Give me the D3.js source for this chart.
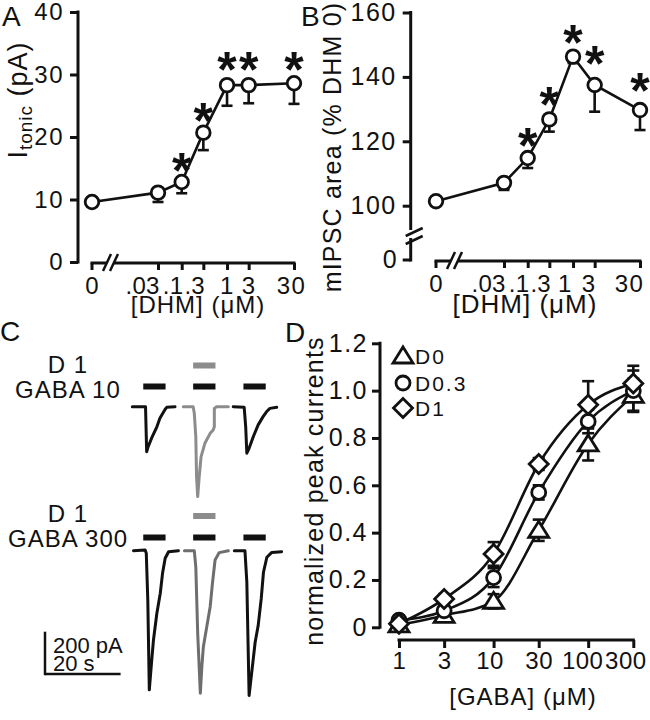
<!DOCTYPE html>
<html><head><meta charset="utf-8">
<script src="https://cdn.jsdelivr.net/npm/d3@7"></script>
<style>body{margin:0;background:#fff}svg{display:block}</style>
</head><body><svg id="chart" width="650" height="720"></svg>
<script>
// ---------------- DATA ----------------
// Panels A & B: DHM concentration response
const dhmConc = [0, 0.03, 0.1, 0.3, 1, 3, 30];
const dhmTickLabels = ["0", ".03", ".1", ".3", "1", "3", "30"];
const tonicTicks = [0, 10, 20, 30, 40];
const tonicMean = [9.6, 11.1, 12.8, 20.7, 28.3, 28.3, 28.6];
const tonicSem  = [0.7, 1.5, 1.8, 2.8, 3.3, 2.9, 3.3];
const tonicStarConc  = [0.1, 0.3, 1, 3, 30];
const tonicStarLevel = [16.3, 24.3, 32.5, 32.5, 32.5];

const areaTicks = [100, 120, 140, 160];
const areaMean = [101.4, 107.1, 114.8, 126.8, 146.3, 137.5, 129.7];
const areaSem  = [0.6, 2.2, 3.1, 3.8, 2.0, 8.3, 6.2];
const areaStarConc  = [0.1, 0.3, 1, 3, 30];
const areaStarLevel = [122.0, 134.7, 153.9, 147.4, 139.0];

// Panel D: GABA concentration response
const gabaConc = [1, 3, 10, 30, 100, 300];
const gabaTickLabels = ["1", "3", "10", "30", "100", "300"];
const normTicks = [0, 0.2, 0.4, 0.6, 0.8, 1.0, 1.2];
const normTickLabels = ["0", "0.2", "0.4", "0.6", "0.8", "1.0", "1.2"];
const seriesNames = ["D0", "D0.3", "D1"];
const respD0  = [0.01, 0.05, 0.11, 0.41, 0.775, 0.98];
const semD0   = [0.01, 0.01, 0.03, 0.045, 0.07, 0.07];
const respD03 = [0.03, 0.07, 0.21, 0.57, 0.87, 1.00];
const semD03  = [0.01, 0.02, 0.04, 0.03, 0.05, 0.085];
const respD1  = [0.015, 0.12, 0.31, 0.69, 0.94, 1.03];
const semD1   = [0.005, 0.02, 0.05, 0.025, 0.10, 0.075];

// Panel C: current traces (time in s from trace start, current in pA)
const ctrl10T  = [0, 3.5, 3.8, 4.2, 5.1, 6.5, 7.3, 7.8, 8.7, 9.1, 11.3];
const ctrl10I  = [0, 0, -213, -189, -149, -95, -55, -39, -12, -3, 0];
const dhm10T   = [0, 2.6, 2.9, 3.3, 3.5, 3.8, 4.2, 4.7, 5.7, 7.1, 7.9, 8.2, 8.2, 8.8, 11.9];
const dhm10I   = [0, 0, -31, -142, -331, -425, -331, -236, -173, -126, -110, -95, -8, 0, 0];
const wash10T  = [0, 2.9, 3.3, 3.6, 4.2, 5.3, 6.6, 7.9, 8.8, 9.7, 11.5];
const wash10I  = [0, -3, -95, -220, -197, -142, -86, -47, -24, -8, -3];
const ctrl300T = [0, 3.1, 3.4, 3.8, 4.2, 4.7, 5.3, 6.2, 7.1, 7.7, 8.4, 9.3, 11.9];
const ctrl300I = [0, 3, -12, -233, -658, -548, -422, -296, -201, -107, -36, -5, 0];
const dhm300T  = [0, 2.6, 3.0, 3.5, 4.2, 4.6, 5.0, 5.9, 6.8, 7.4, 8.1, 9.2, 11.6];
const dhm300I  = [0, 0, -76, -390, -674, -548, -454, -359, -265, -154, -44, -9, 0];
const wash300T = [0, 2.8, 3.3, 3.9, 4.6, 5.5, 6.3, 7.1, 7.7, 8.6, 9.9, 12.5];
const wash300I = [0, 0, -149, -685, -575, -433, -354, -228, -102, -31, -8, -5];
const traceStart10  = [0, 13.5, 26.7];
const traceStart300 = [0.3, 13.8, 27.0];
const gabaOnsets = [2.9, 16.1, 29.4];
const appDuration = 5.9;
const dhmOnsetIndex = 1;
const scaleBarCurrent = 200; // pA
const scaleBarTime = 20;     // s

// ---------------- DRAWING ----------------
const FONT = '"Liberation Sans", Arial, Helvetica, sans-serif';
const INK = '#111';
const svg = d3.select('#chart').attr('font-family', FONT);

function txt(x, y, s, fs, anchor, ls) {
  return svg.append('text').attr('x', x).attr('y', y).attr('font-size', fs)
    .attr('fill', INK).attr('text-anchor', anchor || 'start')
    .attr('letter-spacing', ls === undefined ? 1 : ls).text(s);
}
function seg(g, x1, y1, x2, y2, w, col) {
  g.append('line').attr('x1', x1).attr('y1', y1).attr('x2', x2).attr('y2', y2)
    .attr('stroke', col || INK).attr('stroke-width', w || 3);
}
function styleAxis(g, fs) {
  g.select('.domain').remove();
  g.attr('font-size', fs).attr('font-family', FONT);
  g.selectAll('.tick line').attr('stroke', INK).attr('stroke-width', 3);
  g.selectAll('.tick text').attr('fill', INK).attr('letter-spacing', 1.5);
}
function star(g, x, yc, fs) {
  g.append('text').attr('x', x).attr('y', yc + 0.56 * fs).attr('font-size', fs)
    .attr('font-weight', 'bold').attr('text-anchor', 'middle').attr('fill', INK).text('*');
}

// dose-response panel for DHM
function dhmPanel(o) {
  const g = svg.append('g');
  const y = d3.scaleLinear().domain(o.yDomain).range(o.yRange);
  const xl = d3.scaleLog().domain([0.03, 30]).range(o.xRange);
  const px = c => c === 0 ? o.zeroX : xl(c);
  const ga = g.append('g').attr('transform', `translate(${o.axisX},0)`)
    .call(d3.axisLeft(y).tickValues(o.yTicks).tickSize(8).tickPadding(6).tickSizeOuter(0));
  styleAxis(ga, o.fs);
  if (o.yBreak) {
    seg(g, o.axisX, o.yRange[1] - 1.5, o.axisX, o.yBreak[0]);
    seg(g, o.axisX, o.yBreak[1], o.axisX, o.zeroY + 1.5);
    seg(g, o.axisX - 8, o.zeroY, o.axisX, o.zeroY);
    seg(g, o.axisX - 5, o.yBreak[0] + 6, o.axisX + 12, o.yBreak[0] - 2, 2.5);
    seg(g, o.axisX - 5, o.yBreak[1] + 6, o.axisX + 12, o.yBreak[1] - 2, 2.5);
    g.append('text').attr('x', o.axisX - 14).attr('y', o.zeroY).attr('dy', '0.32em')
      .attr('text-anchor', 'end').attr('font-size', o.fs).attr('fill', INK).text('0');
  } else {
    seg(g, o.axisX, o.yRange[1] - 1.5, o.axisX, o.yRange[0] + 1.5);
  }
  const nz = dhmConc.filter(c => c > 0);
  const gx = g.append('g').attr('transform', `translate(0,${o.xAxisY})`)
    .call(d3.axisBottom(xl).tickValues(nz).tickSize(7).tickPadding(7)
      .tickFormat(d => dhmTickLabels[dhmConc.indexOf(d)]));
  styleAxis(gx, o.xfs);
  gx.selectAll('.tick text').each(function (d) {
    const lab = dhmTickLabels[dhmConc.indexOf(d)];
    const s = d3.select(this);
    if (lab.startsWith('.')) s.attr('text-anchor', 'end').attr('x', 1).attr('letter-spacing', 0.2);
    else s.attr('x', o.labelShift[lab] || 0);
  });
  seg(g, o.zeroX, o.xAxisY, o.zeroX, o.xAxisY + 7);
  g.append('text').attr('x', o.zeroX).attr('y', o.xAxisY + 14).attr('dy', '0.71em')
    .attr('text-anchor', 'middle').attr('font-size', o.xfs).attr('fill', INK).text('0');
  seg(g, o.zeroX - 1.5, o.xAxisY, o.zeroX + 15, o.xAxisY);
  seg(g, o.zeroX + 22, o.xAxisY, o.xRange[1] + 1.5, o.xAxisY);
  seg(g, o.zeroX + 11, o.xAxisY + 8, o.zeroX + 19, o.xAxisY - 9, 2.5);
  seg(g, o.zeroX + 18, o.xAxisY + 8, o.zeroX + 26, o.xAxisY - 9, 2.5);
  g.append('path').datum(dhmConc.map((c, i) => [px(c), y(o.mean[i])]))
    .attr('d', d3.line()).attr('fill', 'none').attr('stroke', INK).attr('stroke-width', 2.6);
  dhmConc.forEach((c, i) => {
    const x0 = px(c), yb = y(o.mean[i] - o.sem[i]);
    seg(g, x0, y(o.mean[i]), x0, yb, 2.6);
    seg(g, x0 - 5.5, yb, x0 + 5.5, yb, 2.6);
  });
  g.selectAll('circle.pt').data(dhmConc).join('circle').attr('class', 'pt')
    .attr('cx', c => px(c)).attr('cy', (c, i) => y(o.mean[i])).attr('r', 6.8)
    .attr('fill', '#fff').attr('stroke', INK).attr('stroke-width', 2.8);
  o.starConc.forEach((c, i) => star(g, px(c), y(o.starLevel[i]), 50));
  txt(o.titleX, o.titleY, '[DHM] (\u03bcM)', o.titleFs, 'middle');
  return g;
}

dhmPanel({
  yDomain: [0, 40], yRange: [262, 12], yTicks: tonicTicks, axisX: 78,
  xRange: [158, 294], zeroX: 92, xAxisY: 263, fs: 24, xfs: 24, labelShift: { '30': -3 },
  mean: tonicMean, sem: tonicSem, starConc: tonicStarConc, starLevel: tonicStarLevel,
  titleX: 198, titleY: 313, titleFs: 24
});
dhmPanel({
  yDomain: [100, 160], yRange: [205.7, 12.5], yTicks: areaTicks, axisX: 410.7,
  yBreak: [230, 238], zeroY: 260,
  xRange: [504, 640], zeroX: 436, xAxisY: 261, fs: 25, xfs: 24, labelShift: { '1': -8, '3': -6, '30': -11 },
  mean: areaMean, sem: areaSem, starConc: areaStarConc, starLevel: areaStarLevel,
  titleX: 525, titleY: 313, titleFs: 26
});

// y titles A & B
const tA = svg.append('text').attr('transform', 'translate(27,100) rotate(-90)')
  .attr('text-anchor', 'middle').attr('font-size', 27).attr('fill', INK).attr('letter-spacing', 1);
tA.append('tspan').text('I');
tA.append('tspan').attr('font-size', 19).attr('dy', 5).text('tonic');
tA.append('tspan').attr('dy', -5).text(' (pA)');
svg.append('text').attr('transform', 'translate(341,147) rotate(-90)')
  .attr('text-anchor', 'middle').attr('font-size', 25).attr('fill', INK).attr('letter-spacing', 1.2)
  .text('mIPSC area (% DHM 0)');

// panel letters
txt(2, 26, 'A', 28, 'start', 0);
txt(301, 26, 'B', 28, 'start', 0);
txt(0, 341, 'C', 28, 'start', 0);
txt(285, 342, 'D', 28, 'start', 0);

// ---------------- Panel D ----------------
(function () {
  const g = svg.append('g');
  const y = d3.scaleLinear().domain([0, 1.2]).range([627.3, 343.3]);
  const x = d3.scaleLog().domain([1, 300]).range([399, 633.3]);
  const ga = g.append('g').attr('transform', 'translate(380,0)')
    .call(d3.axisLeft(y).tickValues(normTicks).tickSize(8).tickPadding(4).tickSizeOuter(0)
      .tickFormat((d, i) => normTickLabels[i]));
  styleAxis(ga, 25);
  seg(g, 380, 343.3 - 1.5, 380, 627.3 + 1.5);
  const shift = { '10': -4, '100': -6, '300': -8 };
  const gx = g.append('g').attr('transform', 'translate(0,640)')
    .call(d3.axisBottom(x).tickValues(gabaConc).tickSize(8).tickPadding(4)
      .tickFormat((d, i) => gabaTickLabels[i]));
  styleAxis(gx, 24);
  gx.selectAll('.tick text').attr('letter-spacing', 0.5).attr('x', (d, i) => shift[gabaTickLabels[i]] || 0);
  seg(g, 399 - 1.5, 640, 633.3 + 1.5, 640);
  txt(523, 705, '[GABA] (\u03bcM)', 24, 'middle');
  svg.append('text').attr('transform', 'translate(323,491) rotate(-90)')
    .attr('text-anchor', 'middle').attr('font-size', 25).attr('fill', INK).attr('letter-spacing', 1.2)
    .text('normalized peak currents');

  const shapes = {
    tri: 'M0,-9L10,7L-10,7Z',
    cir: d3.symbol(d3.symbolCircle, 154)(),
    dia: 'M0,-9.5L9.5,0L0,9.5L-9.5,0Z'
  };
  const series = [
    { name: seriesNames[0], m: respD0, s: semD0, shape: shapes.tri },
    { name: seriesNames[1], m: respD03, s: semD03, shape: shapes.cir },
    { name: seriesNames[2], m: respD1, s: semD1, shape: shapes.dia }
  ];
  const line = d3.line().curve(d3.curveMonotoneX);
  series.forEach(sr => {
    g.append('path').datum(gabaConc.map((c, i) => [x(c), y(sr.m[i])])).attr('d', line)
      .attr('fill', 'none').attr('stroke', INK).attr('stroke-width', 2.6);
  });
  series.forEach(sr => {
    gabaConc.forEach((c, i) => {
      const xx = x(c), y1 = y(sr.m[i] + sr.s[i]), y2 = y(sr.m[i] - sr.s[i]);
      seg(g, xx, y1, xx, y2, 2.6);
      seg(g, xx - 6, y1, xx + 6, y1, 2.6);
      seg(g, xx - 6, y2, xx + 6, y2, 2.6);
    });
  });
  series.forEach(sr => {
    g.selectAll(null).data(gabaConc).join('path').attr('d', sr.shape)
      .attr('transform', (c, i) => `translate(${x(c)},${y(sr.m[i])})`)
      .attr('fill', '#fff').attr('stroke', INK).attr('stroke-width', 2.8);
  });
  const legY = [356, 383, 408];
  series.forEach((sr, i) => {
    g.append('path').attr('d', sr.shape).attr('transform', `translate(403,${legY[i]})`)
      .attr('fill', '#fff').attr('stroke', INK).attr('stroke-width', 2.8);
    g.append('text').attr('x', 415).attr('y', legY[i] + 8).attr('font-size', 21)
      .attr('letter-spacing', 2).attr('fill', INK).text(sr.name);
  });
})();

// ---------------- Panel C ----------------
(function () {
  const g = svg.append('g');
  const t = d3.scaleLinear().domain([0, 40]).range([132.3, 132.3 + 40 * 3.78]);
  const pxPerPA = 42.3 / 200;
  const rows = [
    { base: 406.7, starts: traceStart10, traces: [[ctrl10T, ctrl10I], [dhm10T, dhm10I], [wash10T, wash10I]],
      barY: 383.5, grayBarY: 362.5, label: ['D 1', 'GABA 10'], labY: [373, 398], labX: 15, dhmCol: '#8c8c8c' },
    { base: 550.7, starts: traceStart300, traces: [[ctrl300T, ctrl300I], [dhm300T, dhm300I], [wash300T, wash300I]],
      barY: 534.5, grayBarY: 513, label: ['D 1', 'GABA 300'], labY: [521.7, 546.7], labX: 8, dhmCol: '#6e6e6e' }
  ];
  rows.forEach(r => {
    const yI = d3.scaleLinear().domain([-200, 0]).range([r.base + 42.3, r.base]);
    r.traces.forEach((tr, k) => {
      const pts = tr[0].map((tt, j) => [t(r.starts[k] + tt), yI(tr[1][j])]);
      g.append('path').datum(pts).attr('d', d3.line())
        .attr('fill', 'none').attr('stroke', k === dhmOnsetIndex ? r.dhmCol : INK)
        .attr('stroke-width', 3).attr('stroke-linejoin', 'round').attr('stroke-linecap', 'round');
    });
    gabaOnsets.forEach(on => {
      g.append('rect').attr('x', t(on)).attr('y', r.barY).attr('width', t(on + appDuration) - t(on))
        .attr('height', 6).attr('fill', INK);
    });
    const on = gabaOnsets[dhmOnsetIndex];
    g.append('rect').attr('x', t(on)).attr('y', r.grayBarY).attr('width', t(on + appDuration) - t(on))
      .attr('height', 6).attr('fill', '#8c8c8c');
    txt(68, r.labY[0], r.label[0], 24, 'middle');
    txt(r.labX, r.labY[1], r.label[1], 24, 'start');
  });
  const sx = 45, sy = 674;
  const len = t(scaleBarTime) - t(0);
  seg(g, sx, sy - scaleBarCurrent * pxPerPA, sx, sy + 1.2, 2.5);
  seg(g, sx, sy, sx + len, sy, 2.5);
  txt(53, 653, scaleBarCurrent + ' pA', 22, 'start', 0);
  txt(53, 671, scaleBarTime + ' s', 22, 'start', 0);
})();
</script></body></html>
